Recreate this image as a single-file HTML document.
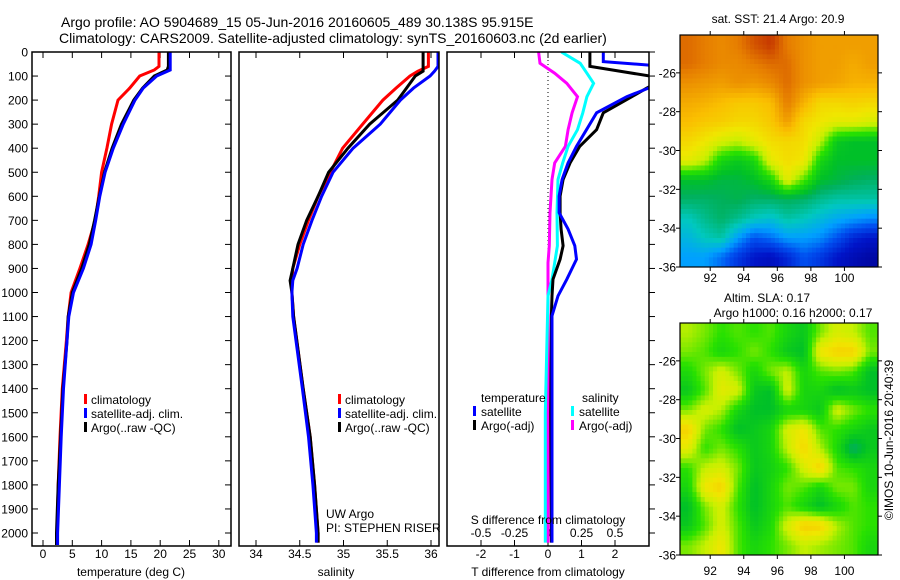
<!DOCTYPE html>
<html><head><meta charset="utf-8"><style>
body{margin:0;background:#fff;}
svg{display:block;font-family:"Liberation Sans",sans-serif;}
text{fill:#000;}
</style></head><body>
<svg id="fig" width="900" height="580" viewBox="0 0 900 580">
<text x="61" y="27" font-size="14">Argo profile: AO 5904689_15 05-Jun-2016 20160605_489 30.138S 95.915E</text>
<text x="59" y="43" font-size="14">Climatology: CARS2009. Satellite-adjusted climatology: synTS_20160603.nc (2d earlier)</text>
<g id="g"></g>
</svg>
<script>
// ---- data ----
const depthT = [0,60,75,100,150,200,300,400,500,600,700,800,900,1000,1100,1200,1400,1600,1800,2000,2050];
const tempClim = [19.8,19.8,19.0,16.5,14.8,12.8,11.7,10.9,10.0,9.5,8.9,7.7,6.3,4.8,4.3,4.0,3.3,2.9,2.6,2.4,2.4];
const tempSat  = [21.7,21.7,21.7,19.4,17.1,15.7,13.7,12.0,10.6,9.7,9.0,8.2,6.9,5.2,4.4,4.1,3.5,3.1,2.8,2.5,2.5];
const tempArgo = [21.4,21.4,21.2,19.0,17.0,15.5,13.4,11.8,10.5,9.6,8.8,7.9,6.6,5.0,4.3,4.1,3.4,3.0,2.6,2.3,2.3];
const depthS = [0,60,80,100,150,200,300,400,500,600,700,800,900,950,1000,1100,1400,1600,1800,2000,2040];
const salClim = [35.97,35.97,35.85,35.76,35.6,35.45,35.22,34.99,34.85,34.71,34.6,34.5,34.42,34.41,34.41,34.43,34.54,34.62,34.67,34.71,34.71];
const salSat  = [36.08,36.08,36.04,35.99,35.8,35.65,35.42,35.11,34.88,34.75,34.64,34.54,34.47,34.42,34.41,34.42,34.53,34.6,34.65,34.69,34.69];
const salArgo = [35.91,35.91,35.91,35.82,35.72,35.62,35.3,35.05,34.83,34.71,34.58,34.48,34.42,34.39,34.41,34.43,34.54,34.62,34.67,34.71,34.71];
const depthD = [0,40,60,110,150,186,253,323,392,461,530,599,668,737,806,862,945,1014,1097,1500,2040];
const dTargo = [1.25,1.25,1.25,3.5,2.95,2.5,1.65,1.45,0.95,0.66,0.45,0.36,0.36,0.39,0.45,0.36,0.15,0.12,0.1,0.08,0.1];
const dTsat  = [1.65,1.65,3.5,3.5,3.0,2.35,1.45,1.15,0.85,0.6,0.42,0.33,0.33,0.6,0.8,0.85,0.56,0.3,0.12,0.12,0.12];
const depthDS = [0,47,88,130,186,253,323,392,461,530,668,806,876,945,1014,1500,2040];
const dSsat  = [0.10,0.24,0.29,0.34,0.29,0.26,0.22,0.15,0.11,0.075,0.067,0.07,0.05,0.03,0.0,-0.02,-0.02];
const dSargo = [-0.07,-0.06,0.05,0.14,0.22,0.18,0.15,0.13,0.05,0.03,0.015,0.01,0.0,0.0,0.0,0.0,0.0];
const depthTicks = [0,100,200,300,400,500,600,700,800,900,1000,1100,1200,1300,1400,1500,1600,1700,1800,1900,2000];
const tempTicks = [0,5,10,15,20,25,30];
const salTicks = [34,34.5,35,35.5,36];
const dTTicks = [-2,-1,0,1,2];
const dSTicks = [-0.5,-0.25,0,0.25,0.5];
const dSTickLabels = ["-0.5","-0.25","0","0.25","0.5"];
const lonTicks = [92,94,96,98,100];
const latTicks = [-26,-28,-30,-32,-34,-36];
const sstGrid = [
[0.92,0.9,0.88,0.9,0.95,0.98,0.9,0.87,0.85,0.85,0.85,0.85],
[0.92,0.9,0.88,0.88,0.9,0.92,0.92,0.87,0.85,0.85,0.83,0.85],
[0.87,0.86,0.85,0.87,0.86,0.88,0.92,0.87,0.85,0.84,0.82,0.82],
[0.83,0.82,0.8,0.78,0.78,0.8,0.9,0.82,0.75,0.75,0.76,0.75],
[0.8,0.78,0.77,0.75,0.75,0.78,0.85,0.75,0.72,0.7,0.7,0.68],
[0.75,0.72,0.68,0.66,0.7,0.74,0.75,0.74,0.66,0.52,0.5,0.5],
[0.7,0.66,0.55,0.52,0.55,0.7,0.74,0.72,0.55,0.5,0.5,0.5],
[0.5,0.5,0.48,0.48,0.5,0.55,0.7,0.6,0.5,0.48,0.46,0.45],
[0.45,0.45,0.46,0.47,0.45,0.45,0.46,0.45,0.42,0.4,0.4,0.4],
[0.38,0.42,0.45,0.42,0.38,0.36,0.4,0.38,0.35,0.32,0.3,0.28],
[0.34,0.38,0.4,0.3,0.22,0.25,0.3,0.3,0.28,0.22,0.15,0.12],
[0.3,0.3,0.25,0.18,0.12,0.1,0.15,0.22,0.18,0.12,0.08,0.05]];
const slaGrid = [
[0.65,0.62,0.58,0.6,0.58,0.6,0.55,0.52,0.62,0.68,0.66,0.6],
[0.62,0.6,0.55,0.58,0.62,0.58,0.52,0.5,0.72,0.76,0.76,0.62],
[0.56,0.62,0.68,0.62,0.55,0.62,0.66,0.55,0.6,0.62,0.6,0.5],
[0.52,0.6,0.7,0.68,0.52,0.5,0.68,0.55,0.55,0.5,0.52,0.5],
[0.62,0.68,0.65,0.55,0.5,0.5,0.55,0.55,0.52,0.68,0.62,0.58],
[0.76,0.62,0.58,0.5,0.52,0.55,0.68,0.72,0.6,0.58,0.55,0.52],
[0.7,0.58,0.62,0.58,0.52,0.55,0.66,0.75,0.65,0.56,0.45,0.52],
[0.58,0.66,0.68,0.62,0.52,0.54,0.58,0.68,0.76,0.6,0.58,0.55],
[0.55,0.72,0.76,0.6,0.5,0.55,0.62,0.6,0.55,0.62,0.62,0.55],
[0.5,0.62,0.68,0.58,0.5,0.55,0.6,0.55,0.5,0.55,0.6,0.58],
[0.52,0.6,0.68,0.6,0.52,0.56,0.68,0.77,0.76,0.65,0.6,0.58],
[0.62,0.66,0.72,0.6,0.55,0.58,0.62,0.66,0.64,0.62,0.6,0.55]];

// ---- helpers ----
const NS="http://www.w3.org/2000/svg";
const G=document.getElementById('g');
function el(tag,attrs,parent){const e=document.createElementNS(NS,tag);for(const k in attrs)e.setAttribute(k,attrs[k]);(parent||G).appendChild(e);return e;}
function txt(x,y,s,anchor,size){const t=el('text',{x:x,y:y,'font-size':size||12,'text-anchor':anchor||'start'});t.textContent=s;return t;}
const yD = d => 52 + d*0.2405;
const xT = t => 43 + t*5.86;
const xS = s => 256 + (s-34)*87.5;
const xDT = t => 548 + t*33.5;
const xDS = s => 548 + s*134;
const P1={x0:32,x1:231}, P2={x0:239,x1:439}, P3={x0:447,x1:649}, Y0=52, Y1=546;

const defs=el('defs',{});
[[P1,'c1'],[P2,'c2'],[P3,'c3']].forEach(([p,id])=>{const c=el('clipPath',{id:id},defs);el('rect',{x:p.x0,y:Y0,width:p.x1-p.x0,height:Y1-Y0},c);});

function line(xs,ds,xf,color,clip,name,w){
  let pts='';
  for(let i=0;i<xs.length;i++){pts+=xf(xs[i]).toFixed(1)+','+yD(ds[i]).toFixed(1)+' ';}
  const l=el('polyline',{points:pts,fill:'none',stroke:color,'stroke-width':w||3,'clip-path':'url(#'+clip+')'});
  
  
}
function frame(p,name){
  const r=el('rect',{x:p.x0,y:Y0,width:p.x1-p.x0,height:Y1-Y0,fill:'none',stroke:'#000','stroke-width':1.5});
  
  
}

depthTicks.forEach(d=>{
  const y=yD(d);
  el('line',{x1:P1.x0,x2:P1.x0+6,y1:y,y2:y,stroke:'#000'});
  el('line',{x1:P1.x1-6,x2:P1.x1,y1:y,y2:y,stroke:'#000'});
  el('line',{x1:P3.x1,x2:P3.x1+6,y1:y,y2:y,stroke:'#000'});
  const t=txt(28,y+4.5,String(d),'end',12);
  
  
});

tempTicks.forEach(v=>{const x=xT(v);
  el('line',{x1:x,x2:x,y1:Y1,y2:Y1-6,stroke:'#000'});el('line',{x1:x,x2:x,y1:Y0,y2:Y0+6,stroke:'#000'});
  const t=txt(x,558,String(v),'middle',12);
  
  });
line(tempClim,depthT,xT,'#f00','c1','temperature-climatology-line');
line(tempArgo,depthT,xT,'#000','c1','temperature-argo-line');
line(tempSat,depthT,xT,'#00f','c1','temperature-satellite-line');
frame(P1,'temperature-panel');
{const t=txt(131,576,'temperature (deg C)','middle',12);}

salTicks.forEach((v,i)=>{const x=xS(v);
  el('line',{x1:x,x2:x,y1:Y1,y2:Y1-6,stroke:'#000'});el('line',{x1:x,x2:x,y1:Y0,y2:Y0+6,stroke:'#000'});
  const t=txt(x,558,String(v),'middle',12);
  
  });
line(salClim,depthS,xS,'#f00','c2','salinity-climatology-line');
line(salArgo,depthS,xS,'#000','c2','salinity-argo-line');
line(salSat,depthS,xS,'#00f','c2','salinity-satellite-line');
frame(P2,'salinity-panel');
{const t=txt(336,576,'salinity','middle',12);}
{const t=txt(326,518,'UW Argo','start',12);
 const t2=txt(326,532,'PI: STEPHEN RISER','start',12);}

[[84,'temp'],[338,'sal']].forEach(([lx,k])=>{
  [['#f00','climatology'],['#00f','satellite-adj. clim.'],['#000','Argo(..raw -QC)']].forEach((e,i)=>{
    const y=394+i*14;
    el('rect',{x:lx,y:y,width:3,height:10,fill:e[0]});
    const t=txt(lx+7,y+10,e[1],'start',12);
    
    
  });
});

dTTicks.forEach(v=>{const x=xDT(v);
  el('line',{x1:x,x2:x,y1:Y1,y2:Y1-6,stroke:'#000'});el('line',{x1:x,x2:x,y1:Y0,y2:Y0+6,stroke:'#000'});
  const t=txt(x,558,String(v),'middle',12);
  
  });
dSTicks.forEach((v,i)=>{const x=xDS(v);
  const t=txt(x,537,dSTickLabels[i],'middle',12);
  
  });
el('line',{x1:548,x2:548,y1:Y0,y2:400,stroke:'#000','stroke-dasharray':'1,3','stroke-width':1});
line(dSargo,depthDS,xDS,'#f0f','c3','salinity-diff-argo-line');
line(dSsat,depthDS,xDS,'#0ff','c3','salinity-diff-satellite-line');
line(dTargo,depthD,xDT,'#000','c3','temperature-diff-argo-line');
line(dTsat,depthD,xDT,'#00f','c3','temperature-diff-satellite-line');
frame(P3,'difference-panel');
{const t=txt(548,524,'S difference from climatology','middle',12);}
{const t=txt(548,576,'T difference from climatology','middle',12);}
{const t=txt(481,402,'temperature','start',12);
 const t2=txt(582,402,'salinity','start',12);}
[[473,'#00f','satellite',0],[473,'#000','Argo(-adj)',1],[571,'#0ff','satellite',0],[571,'#f0f','Argo(-adj)',1]].forEach(e=>{
  const y=406+e[3]*14;
  el('rect',{x:e[0],y:y,width:3,height:10,fill:e[1]});
  const t=txt(e[0]+8,y+10,e[2],'start',12);
  
  
});

const stops=[[0,[0,0,140]],[0.12,[0,20,200]],[0.22,[0,80,240]],[0.3,[0,160,255]],[0.38,[0,200,190]],[0.46,[0,176,90]],[0.5,[0,192,40]],[0.58,[40,225,0]],[0.66,[200,240,0]],[0.72,[240,230,0]],[0.8,[250,190,0]],[0.9,[230,125,0]],[1,[190,40,0]]];
function cmap(v){for(let i=1;i<stops.length;i++){if(v<=stops[i][0]){const a=stops[i-1],b=stops[i],f=(v-a[0])/(b[0]-a[0]);return 'rgb('+a[1].map((c,j)=>Math.round(c+(b[1][j]-c)*f)).join(',')+')';}}return 'rgb(190,40,0)';}

function sample(grid,fr,fc){
  const rows=grid.length, cols=grid[0].length;
  const r=Math.min(Math.max(fr-0.5,0),rows-1), c=Math.min(Math.max(fc-0.5,0),cols-1);
  const r0=Math.floor(r), c0=Math.floor(c), r1=Math.min(r0+1,rows-1), c1=Math.min(c0+1,cols-1);
  const a=r-r0, b=c-c0;
  return grid[r0][c0]*(1-a)*(1-b)+grid[r0][c1]*(1-a)*b+grid[r1][c0]*a*(1-b)+grid[r1][c1]*a*b;
}
function map(grid,top,name,lonLabelY){
  const x0=680,x1=878,y1=top+232, lon0=90.2, lon1=102, lat0=-24.05, lat1=-36;
  const xl=l=>x0+(l-lon0)*(x1-x0)/(lon1-lon0), yl=l=>top+(l-lat0)*(y1-top)/(lat1-lat0);
  const rows=grid.length, cols=grid[0].length, sub=4;
  const cw=(x1-x0)/cols/sub, ch=(y1-top)/rows/sub;
  for(let r=0;r<rows*sub;r++)for(let c=0;c<cols*sub;c++){
    const v=sample(grid,(r+0.5)/sub,(c+0.5)/sub);
    const cell=el('rect',{x:x0+c*cw,y:top+r*ch,width:cw+0.5,height:ch+0.5,fill:cmap(v)});
    
    
  }
  const fr=el('rect',{x:x0,y:top,width:x1-x0,height:y1-top,fill:'none',stroke:'#000','stroke-width':1.2});
  
  
  lonTicks.forEach(l=>{const x=xl(l);
    el('line',{x1:x,x2:x,y1:top,y2:top-4,stroke:'#000'});el('line',{x1:x,x2:x,y1:y1,y2:y1+4,stroke:'#000'});
    const t=txt(x,lonLabelY,String(l),'middle',12);
    
    });
  latTicks.forEach(l=>{const y=yl(l);
    el('line',{x1:x0,x2:x0-4,y1:y,y2:y,stroke:'#000'});el('line',{x1:x1,x2:x1+4,y1:y,y2:y,stroke:'#000'});
    const t=txt(676,y+4.5,String(l),'end',12);
    
    });
}
map(sstGrid,35,'sst-map',282);
map(slaGrid,323,'sla-map',575);
{const t=txt(778,23,'sat. SST: 21.4 Argo: 20.9','middle',12);}
{const t=txt(767,302,'Altim. SLA: 0.17','middle',12);}
{const t=txt(793,317,'Argo h1000: 0.16 h2000: 0.17','middle',12);}
{const t=txt(0,0,'©IMOS 10-Jun-2016 20:40:39','middle',12);t.setAttribute('transform','translate(893,440) rotate(-90)');}
</script>
</body></html>
